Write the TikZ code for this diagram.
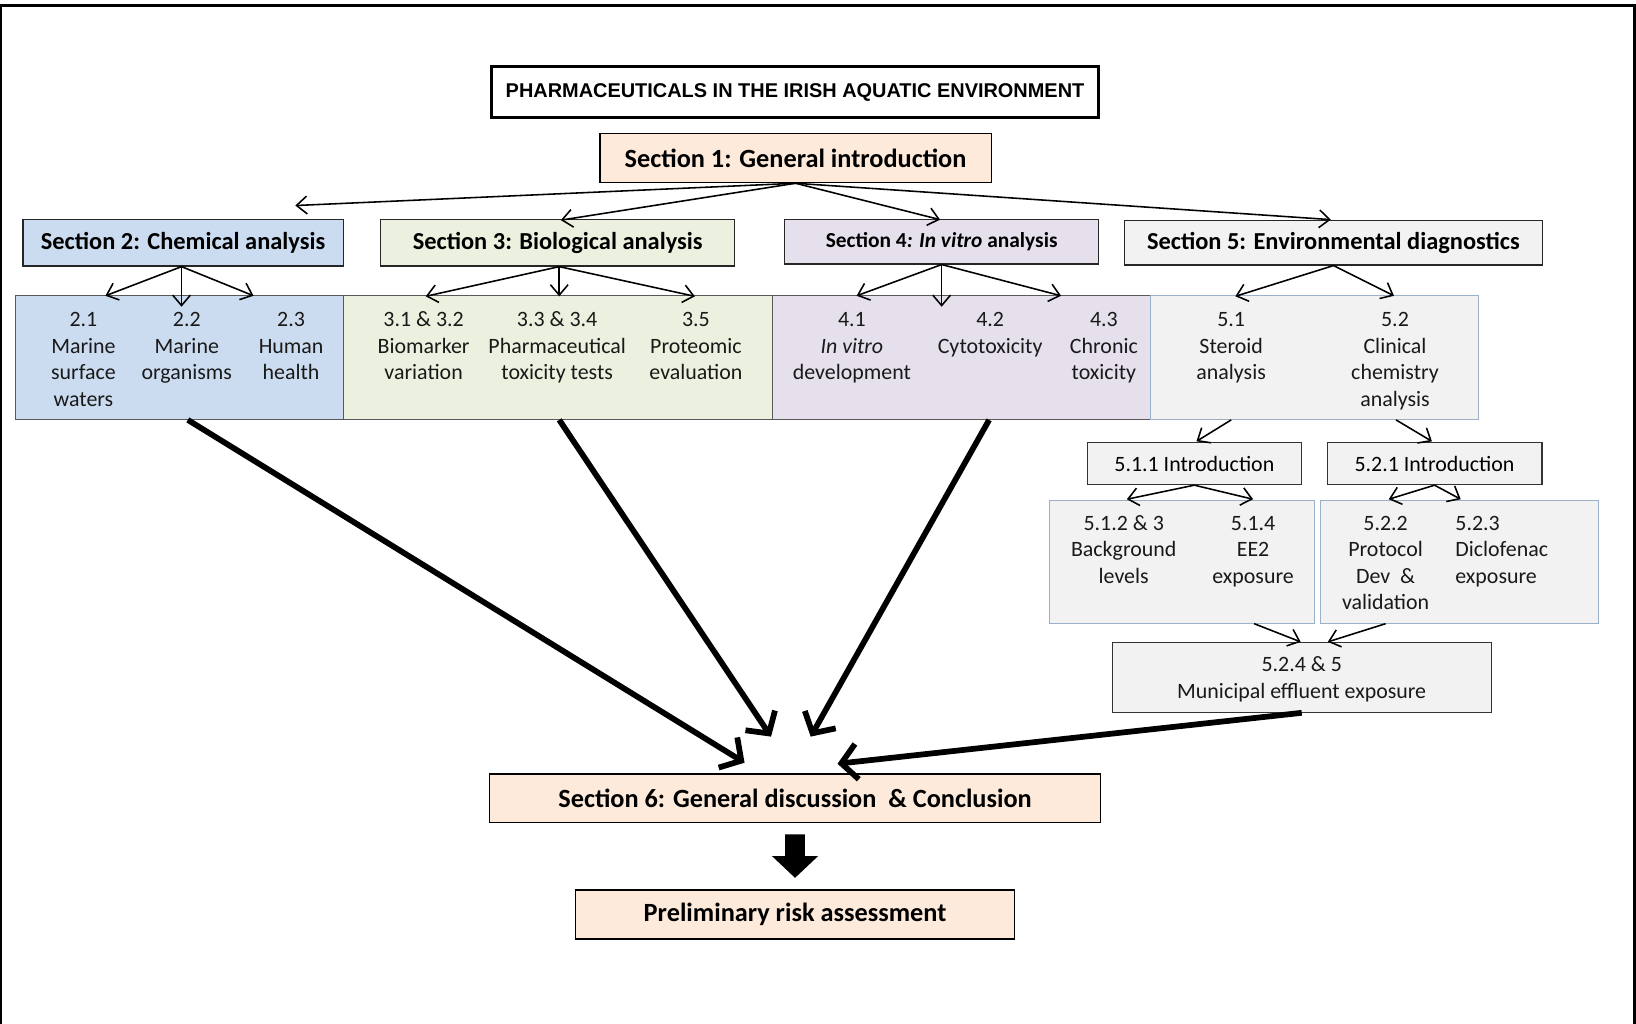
\documentclass[tikz,border=0pt]{standalone}
\usepackage{fontspec}
\setmainfont{Carlito}
\newfontfamily\arialfont{Liberation Sans}
\usetikzlibrary{arrows.meta,calc}
\definecolor{peach}{HTML}{FDEADA}
\definecolor{bluef}{HTML}{CCDCF0}
\definecolor{greenf}{HTML}{EBF1DE}
\definecolor{lavf}{HTML}{E5E0EC}
\definecolor{greyf}{HTML}{F2F2F2}
\definecolor{bordgrey}{HTML}{595959}
\definecolor{bordblue}{HTML}{9AAFC8}
\newcommand{\colc}[1]{\begin{tabular}[t]{@{}c@{}}#1\end{tabular}}
\newcommand{\coll}[1]{\begin{tabular}[t]{@{}l@{}}#1\end{tabular}}
\begin{document}
\begin{tikzpicture}[x=1pt,y=-1pt,
  hdr/.style={draw=black!85, line width=1.1pt, inner sep=0pt, font=\fontsize{23.4}{28}\selectfont\bfseries},
  bighdr/.style={draw=black, line width=1.3pt, inner sep=0pt, fill=peach, font=\fontsize{25.2}{30}\selectfont\bfseries},
  subbox/.style={draw=bordgrey, line width=0.9pt, inner sep=0pt, minimum height=119pt},
  lowbox/.style={draw=bordblue, line width=0.9pt, fill=greyf, inner sep=0pt, minimum height=118pt},
  introbox/.style={draw=black!80, line width=1pt, fill=greyf, inner sep=0pt, minimum height=40pt, font=\fontsize{21}{25.5}\selectfont},
  coltext/.style={anchor=base, inner sep=0pt, font=\fontsize{21}{25.5}\selectfont, text=black!90},
  thinarr/.style={-{Straight Barb[length=10pt,width=17pt]}, line width=1.5pt},
  thickarr/.style={-{Straight Barb[length=15pt,width=34pt]}, line width=5.5pt},
]
\useasboundingbox (0,0) rectangle (1568,981);
\draw[line width=2.5pt] (1,981) -- (1,5.5) -- (1566.5,5.5) -- (1566.5,981);

% title
\node[draw=black, line width=3pt, minimum width=582pt, minimum height=49pt, inner sep=0pt,
  font=\arialfont\bfseries\fontsize{19.1}{22}\selectfont] (title) at (762,88.5)
  {PHARMACEUTICALS IN THE IRISH AQUATIC ENVIRONMENT};

% section 1
\node[bighdr, minimum width=375pt, minimum height=47pt] (s1) at (762.5,151.5) {Section 1: General introduction};

% sections 2-5
\node[hdr, fill=bluef, minimum width=307pt, minimum height=45pt] (s2) at (175.5,232.5) {Section 2: Chemical analysis};
\node[hdr, fill=greenf, minimum width=339pt, minimum height=45pt] (s3) at (534.5,232.5) {Section 3: Biological analysis};
\node[hdr, fill=lavf, minimum width=301pt, minimum height=43pt, font=\fontsize{20.5}{25}\selectfont\bfseries] (s4) at (902.5,231.5) {Section 4\textit{: In vitro} analysis};
\node[hdr, fill=greyf, minimum width=400pt, minimum height=43pt] (s5) at (1278,232.5) {Section 5: Environmental diagnostics};

% sub boxes
\node[subbox, fill=bluef, minimum width=314pt] (b2) at (172,342.5) {};
\node[subbox, fill=greenf, minimum width=411pt] (b3) at (534.5,342.5) {};
\node[subbox, fill=lavf, minimum width=363pt] (b4) at (921.5,342.5) {};
\node[subbox, draw=bordblue, fill=greyf, minimum width=314pt] (b5) at (1260,342.5) {};

\node[coltext] (c21) at (80,313) {\colc{2.1\\Marine\\surface\\waters}};
\node[coltext] (c22) at (179,313) {\colc{2.2\\Marine\\organisms}};
\node[coltext] (c23) at (279,313) {\colc{2.3\\Human\\health}};
\node[coltext] (c31) at (406,313) {\colc{3.1 \& 3.2\\Biomarker\\variation}};
\node[coltext] (c32) at (534,313) {\colc{3.3 \& 3.4\\Pharmaceutical\\toxicity tests}};
\node[coltext] (c33) at (667,313) {\colc{3.5\\Proteomic\\evaluation}};
\node[coltext] (c41) at (816.5,313) {\colc{4.1\\\textit{In vitro}\\development}};
\node[coltext] (c42) at (949,313) {\colc{4.2\\Cytotoxicity}};
\node[coltext] (c43) at (1058,313) {\colc{4.3\\Chronic\\toxicity}};
\node[coltext] (c51) at (1180,313) {\colc{5.1\\Steroid\\analysis}};
\node[coltext] (c52) at (1337,313) {\colc{5.2\\Clinical\\chemistry\\analysis}};

% intro boxes
\node[introbox, minimum width=205pt] (i51) at (1144.7,444.5) {5.1.1 Introduction};
\node[introbox, minimum width=206pt] (i52) at (1374.9,444.5) {5.2.1 Introduction};

% lower boxes
\node[lowbox, minimum width=254pt] (l1) at (1132.6,538.3) {};
\node[lowbox, minimum width=266pt] (l2) at (1398.8,538.3) {};
\node[coltext] (c512) at (1077,508) {\colc{5.1.2 \& 3\\Background\\levels}};
\node[coltext] (c514) at (1201,508) {\colc{5.1.4\\EE2\\exposure}};
\node[coltext] (c522) at (1328,508) {\colc{5.2.2\\Protocol\\Dev\ \ \&\\validation}};
\node[coltext, anchor=base west] (c523) at (1394.7,508) {\coll{5.2.3\\Diclofenac\\exposure}};

% municipal box
\node[introbox, minimum width=363pt, minimum height=67pt] (m) at (1247.6,649.2) {};
\node[coltext] (cm) at (1247.6,643.8) {\colc{5.2.4 \& 5\\Municipal effluent exposure}};

% section 6 and final
\node[bighdr, minimum width=586pt, minimum height=46.5pt] (s6) at (762,765.2) {Section 6: General discussion\ \ \& Conclusion};
\node[bighdr, minimum width=421pt, minimum height=47pt] (pr) at (762,876.5) {Preliminary risk assessment};

% block arrow
\fill[black] ($(s6.south)+(-9.5,10.5)$) -- ++(19,0) -- ++(0,21) -- ++(12.5,0)
  -- ($(pr.north)+(0,-11)$) -- ($(s6.south)+(-22,31.5)$) -- ++(12.5,0) -- cycle;

% arrows from section 1
\coordinate (e12) at (283,197);
\coordinate (e13) at (537.5,211);
\coordinate (e14) at (901,210.5);
\coordinate (e15) at (1275.5,210.5);
\draw[thinarr] (s1.south) -- (e12);
\draw[thinarr] (s1.south) -- (e13);
\draw[thinarr] (s1.south) -- (e14);
\draw[thinarr] (s1.south) -- (e15);

% section 2
\coordinate (s2s) at ($(s2.south)+(-1.5,0)$);
\coordinate (t21) at (101,283.5);
\coordinate (t22) at (174,294);
\coordinate (t23) at (243,283.5);
\draw[thinarr] (s2s) -- (t21);
\draw[thinarr] (s2s) -- (t22);
\draw[thinarr] (s2s) -- (t23);
% section 3
\coordinate (s3s) at ($(s3.south)+(1.5,0)$);
\coordinate (t31) at (408,284);
\coordinate (t32) at (536,284);
\coordinate (t33) at (666,284);
\draw[thinarr] (s3s) -- (t31);
\draw[thinarr] (s3s) -- (t32);
\draw[thinarr] (s3s) -- (t33);
% section 4
\coordinate (t41) at (821,283.5);
\coordinate (t42) at (902.5,294);
\coordinate (t43) at (1017,283.5);
\draw[thinarr] (s4.south) -- (t41);
\draw[thinarr] (s4.south) -- (t42);
\draw[thinarr] (s4.south) -- (t43);
% section 5
\coordinate (t51) at (1184,284);
\coordinate (t52) at (1336,283.5);
\draw[thinarr] (s5.south) -- (t51);
\draw[thinarr] (s5.south) -- (t52);

% 5.x to intro
\draw[thinarr] ($(b5.south)+(-80,0)$) -- ($(i51.north)+(2,-1)$);
\draw[thinarr] ($(b5.south)+(78,0)$) -- ($(i52.north)+(-2.5,-1)$);
% intro to lower
\draw[thinarr] (i51.south) -- (1080,478.5);
\draw[thinarr] (i51.south) -- (1201,478.5);
\draw[thinarr] (i52.south) -- (1331,478.5);
\draw[thinarr] (i52.south) -- (1400,478.5);
% lower to municipal
\draw[thinarr] ($(l1.south)+(69.4,0)$) -- ($(m.north)+(-1,0)$);
\draw[thinarr] ($(l2.south)+(-70.8,0)$) -- ($(m.north)+(25,0)$);

% thick arrows to section 6
\coordinate (k1) at (713.6,731);
\coordinate (k2) at (739,706);
\coordinate (k3) at (777,706);
\coordinate (k4) at (802.7,732);
\draw[thickarr] ($(b2.south)+(8,0)$) -- (k1);
\draw[thickarr] ($(b3.south)+(1.5,0)$) -- (k2);
\draw[thickarr] ($(b4.south)+(26.5,0)$) -- (k3);
\draw[thickarr] (m.south) -- (k4);
\end{tikzpicture}
\end{document}
